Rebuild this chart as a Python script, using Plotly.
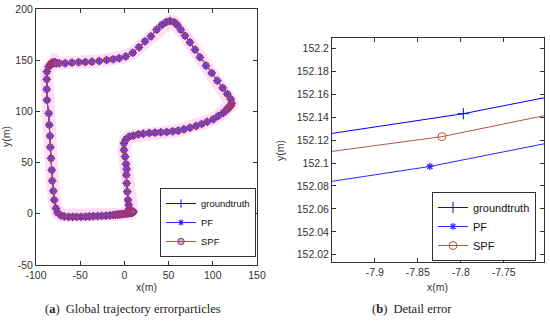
import plotly.graph_objects as go

# ---------------- data: global trajectory (left panel) ----------------
traj_x = [10, 9, 8, 7, 6, 5, 4, 3, 2, 0, -2, -4, -6, -8, -10, -12.6, -16.3, -20.8,
          -25.7, -30.2, -35.2, -39.7, -44, -49, -54, -58.5, -63, -68, -72, -75.5,
          -77.4, -79.3, -80.4, -81.6, -82.2, -83, -83.8, -84.2, -85, -85.6,
          -87.6, -87.9, -87.9, -87.6, -85.6, -84, -83, -82, -81, -80, -79, -78, -77,
          -73.6, -66.9, -59.3, -51.8, -44.2, -36.7, -28.4, -20.1, -12.6, -5.8, 1.5,
          9.4, 16.5, 23.3, 30.1, 36.5, 42.2, 47.1, 51.6, 56.4, 59.8, 63.7, 68.6, 74.2,
          79.9, 85.5, 92.3, 98.8, 105.1, 111.2, 116.4, 120.2, 121.4, 120.5, 119.5,
          118.5, 117.5, 116.5, 115, 111.9, 106.2, 100.6, 93.8, 87.4, 81, 74.2, 67.4,
          61, 54.6, 47.9, 41.1, 34.6, 28.2, 21.4, 15.7, 10.1, 5.5, 1.8, -0.5, -0.5,
          0.7, 1.8, 2.6, 2.2, 2.6, 3.3, 4.1, 4.9, 5.5, 6, 7, 8.5, 10]
traj_y = [2, 1, 1.8, 0.8, 1.5, 0.5, 1.2, 0.2, 0.5, 0, -0.2, -0.5, -0.6, -0.8, -1, -1.2,
          -1.5, -1.8, -2, -2.2, -2.4, -2.6, -2.8, -3, -3, -3, -3, -2.6, -1.5, 1,
          5.4, 13.5, 22.3, 32.3, 42.8, 54.2, 65, 76, 86.7, 98.1,
          111, 121.6, 131.3, 138.8, 143.7, 145.5, 146.5, 147.5, 146.8, 148, 147.2, 148, 147,
          147, 147, 147.6, 148, 148.2, 148.5, 149.2, 150.2, 150.9, 151.9, 153.6,
          157.2, 162.6, 168.4, 173.3, 179.8, 184.4, 187, 188.3, 187, 184.4, 179.8, 173.9,
          167.5, 160.3, 152.8, 144.6, 137.5, 130, 122.9, 117, 112.1, 107.9, 106, 105,
          104.5, 103, 102.5, 101, 98.7, 95.5, 92.3, 89.9, 87.7, 85.7, 84.1, 82.5,
          81.2, 80.6, 79.9, 79.6, 79.2, 78.9, 78.2, 77.6, 76.3, 75.3, 72.8, 68.8, 62.3,
          55.8, 48.6, 43.5, 37.9, 29.8, 21.6, 13.5, 8.6, 5, 3, 2, 1.5, 2]

# ---------------- data: detail (right panel) ----------------
gt_x = [-8.10, -7.797, -7.60]
gt_y = [152.109, 152.143, 152.172]
pf_x = [-8.10, -7.836, -7.60]
pf_y = [152.067, 152.097, 152.132]
spf_x = [-8.10, -7.822, -7.60]
spf_y = [152.095, 152.123, 152.157]

# ticks
l_xticks = [-100, -50, 0, 50, 100, 150]
l_xtext = ["-100", "-50", "0", "50", "100", "150"]
l_yticks = [-50, 0, 50, 100, 150, 200]
l_ytext = ["-50", "0", "50", "100", "150", "200"]
r_xticks = [-7.9, -7.85, -7.8, -7.75]
r_xtext = ["-7.9", "-7.85", "-7.8", "-7.75"]
r_yticks = [152.02, 152.04, 152.06, 152.08, 152.1, 152.12, 152.14, 152.16, 152.18, 152.2]
r_ytext = ["152.02", "152.04", "152.06", "152.08", "152.1", "152.12", "152.14",
           "152.16", "152.18", "152.2"]

W, H = 550, 322
BLUE = "#0000ff"
PFBLUE = "#2a2aff"
SPF = "#b5573a"
FONT = "Liberation Sans, Arial, sans-serif"

fig = go.Figure()

# pink particle halo
fig.add_trace(go.Scatter(x=traj_x, y=traj_y, mode="lines",
                         line=dict(color="rgba(255,120,220,0.25)", width=13),
                         showlegend=False, hoverinfo="skip", xaxis="x", yaxis="y"))
fig.add_trace(go.Scatter(x=traj_x, y=traj_y, mode="lines+markers", name="groundtruth",
                         line=dict(color=BLUE, width=1),
                         marker=dict(symbol="cross-thin-open", size=6,
                                     line=dict(color=BLUE, width=1)),
                         xaxis="x", yaxis="y", legend="legend"))
fig.add_trace(go.Scatter(x=traj_x, y=traj_y, mode="lines+markers", name="PF",
                         line=dict(color=PFBLUE, width=1),
                         marker=dict(symbol="asterisk-open", size=5,
                                     line=dict(color=PFBLUE, width=1.2)),
                         xaxis="x", yaxis="y", legend="legend"))
fig.add_trace(go.Scatter(x=traj_x, y=traj_y, mode="lines+markers", name="SPF",
                         line=dict(color=SPF, width=1),
                         marker=dict(symbol="circle", size=6.5, color="rgba(130,80,190,0.45)",
                                     line=dict(color="#a8305a", width=1)),
                         xaxis="x", yaxis="y", legend="legend"))

# right panel
fig.add_trace(go.Scatter(x=gt_x, y=gt_y, mode="lines+markers", name="groundtruth",
                         line=dict(color=BLUE, width=1),
                         marker=dict(symbol="cross-thin-open", size=8,
                                     line=dict(color=BLUE, width=1)),
                         xaxis="x2", yaxis="y2", legend="legend2"))
fig.add_trace(go.Scatter(x=pf_x, y=pf_y, mode="lines+markers", name="PF",
                         line=dict(color=PFBLUE, width=1),
                         marker=dict(symbol="asterisk-open", size=6,
                                     line=dict(color=PFBLUE, width=1.2)),
                         xaxis="x2", yaxis="y2", legend="legend2"))
fig.add_trace(go.Scatter(x=spf_x, y=spf_y, mode="lines+markers", name="SPF",
                         line=dict(color=SPF, width=1),
                         marker=dict(symbol="circle-open", size=8,
                                     line=dict(color="#c0483a", width=1)),
                         xaxis="x2", yaxis="y2", legend="legend2"))

axis_common = dict(showline=True, linecolor="#333", linewidth=1, mirror="ticks",
                   ticks="inside", ticklen=4, tickcolor="#333", showgrid=False,
                   zeroline=False, automargin=False,
                   tickfont=dict(family=FONT, size=10.5, color="#333"))

fig.update_layout(
    width=W, height=H, margin=dict(l=0, r=0, t=0, b=0, autoexpand=False),
    paper_bgcolor="white", plot_bgcolor="white",
    xaxis=dict(domain=[36 / W, 257 / W], range=[-100, 150], tickvals=l_xticks,
               ticktext=l_xtext, anchor="y", **axis_common),
    yaxis=dict(domain=[1 - 265 / H, 1 - 9 / H], range=[-50, 200], tickvals=l_yticks,
               ticktext=l_ytext, anchor="x", **axis_common),
    xaxis2=dict(domain=[332 / W, 544 / W], range=[-7.95, -7.703], tickvals=r_xticks,
                ticktext=r_xtext, anchor="y2", **axis_common),
    yaxis2=dict(domain=[1 - 262 / H, 1 - 38 / H], range=[152.0137, 152.209],
                tickvals=r_yticks, ticktext=r_ytext, anchor="x2", **axis_common),
    legend=dict(x=256 / W, xanchor="right", y=1 - 257 / H, yanchor="bottom",
                bgcolor="white", bordercolor="#333", borderwidth=1,
                font=dict(family=FONT, size=9.5, color="#111"), tracegroupgap=0),
    legend2=dict(x=536 / W, xanchor="right", y=1 - 261 / H, yanchor="bottom",
                 bgcolor="white", bordercolor="#333", borderwidth=1,
                 font=dict(family=FONT, size=11, color="#111"), tracegroupgap=0),
    showlegend=True,
)

ann = []
def label(text, px, py, angle=0, size=10.5, family=FONT, color="#333"):
    ann.append(dict(text=text, x=px / W, y=1 - py / H, xref="paper", yref="paper",
                    showarrow=False, textangle=angle, xanchor="center", yanchor="middle",
                    font=dict(family=family, size=size, color=color)))

label("x(m)", 146, 287)
label("y(m)", 6, 137, angle=-90)
label("x(m)", 437, 287)
label("y(m)", 280, 150, angle=-90)
SERIF = "Liberation Serif, Times New Roman, serif"
label("(<b>a</b>)  Global trajectory errorparticles", 133, 309, size=12.5, family=SERIF, color="#222")
label("(<b>b</b>)  Detail error", 412, 309, size=12.5, family=SERIF, color="#222")
fig.update_layout(annotations=ann)

fig.write_html("out.html", config={"displayModeBar": False},
               post_script="document.body.style.margin='0';")
